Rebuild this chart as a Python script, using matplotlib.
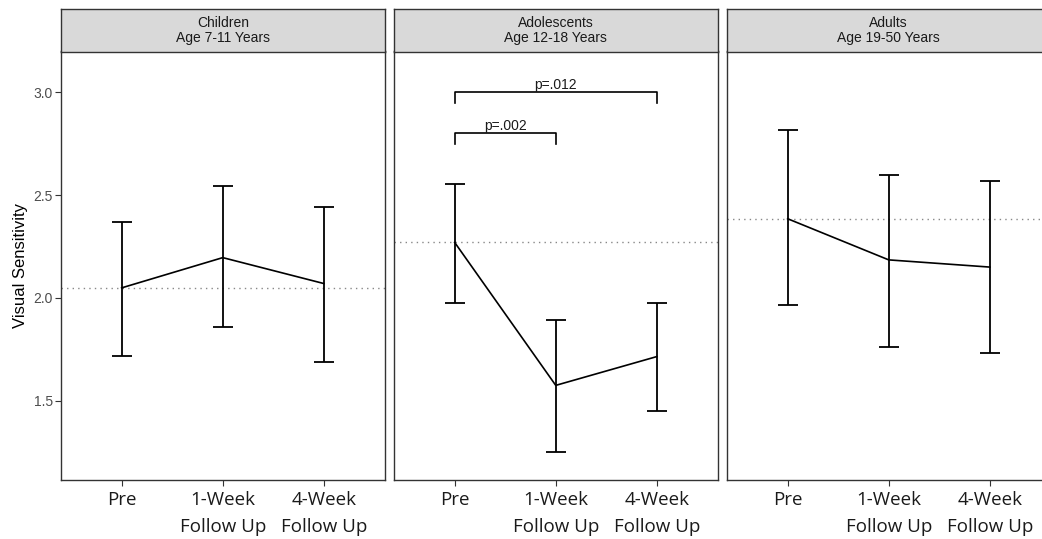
import matplotlib.pyplot as plt

# data
groups = ["Children\nAge 7-11 Years", "Adolescents\nAge 12-18 Years", "Adults\nAge 19-50 Years"]
timepoints = ["Pre", "1-Week\nFollow Up", "4-Week\nFollow Up"]

children_mean = [2.049, 2.196, 2.070]
children_low = [1.717, 1.858, 1.690]
children_high = [2.370, 2.545, 2.440]

adolescents_mean = [2.270, 1.575, 1.715]
adolescents_low = [1.975, 1.250, 1.450]
adolescents_high = [2.555, 1.895, 1.975]

adults_mean = [2.385, 2.185, 2.150]
adults_low = [1.965, 1.760, 1.730]
adults_high = [2.817, 2.600, 2.570]

# significance brackets in the adolescent panel: (from, to, height, label)
brackets = [(0, 1, 2.80, "p=.002"), (0, 2, 3.00, "p=.012")]

means = [children_mean, adolescents_mean, adults_mean]
lows = [children_low, adolescents_low, adults_low]
highs = [children_high, adolescents_high, adults_high]

W, H = 1042, 539
fig = plt.figure(figsize=(W / 100, H / 100), dpi=100)

panel_left = [61, 394, 727]
panel_w = 323.5
panel_top, panel_bot = 51.5, 480
strip_top = 9

x = list(range(len(timepoints)))
grey = "#4D4D4D"
sans = ["Liberation Sans", "DejaVu Sans"]
xfont = ["Open Sans", "DejaVu Sans"]

for i in range(3):
    l = panel_left[i]
    ax = fig.add_axes([l / W, 1 - panel_bot / H, panel_w / W, (panel_bot - panel_top) / H])
    st = fig.add_axes([l / W, 1 - panel_top / H, panel_w / W, (panel_top - strip_top) / H])

    # strip header
    st.set_facecolor("#D9D9D9")
    st.set_xticks([])
    st.set_yticks([])
    for s in st.spines.values():
        s.set_color("#333333")
        s.set_linewidth(1.0)
    st.text(0.5, 0.5, groups[i], ha="center", va="center", fontsize=10,
            color="#1A1A1A", family=sans, linespacing=1.1,
            transform=st.transAxes)

    ax.axhline(means[i][0], color="#888888", linestyle=(0, (1, 3)), linewidth=1.0)
    ax.plot(x, means[i], color="black", linewidth=1.2)
    ax.vlines(x, lows[i], highs[i], color="black", linewidth=1.3)
    ax.hlines(lows[i], [v - 0.1 for v in x], [v + 0.1 for v in x], color="black", linewidth=1.3)
    ax.hlines(highs[i], [v - 0.1 for v in x], [v + 0.1 for v in x], color="black", linewidth=1.3)

    if i == 1:
        for a, b, h, lab in brackets:
            ax.plot([a, a, b, b], [h - 0.053, h, h, h - 0.053], color="black", linewidth=1.2)
            ax.text((a + b) / 2, h + 0.003, lab, ha="center", va="bottom", fontsize=10,
                    family=sans, color="#1A1A1A")

    ax.set_xlim(-0.6, 2.6)
    ax.set_ylim(1.115, 3.198)
    ax.set_xticks(x)
    ax.set_xticklabels(timepoints, fontsize=13.5, family=xfont, linespacing=1.6,
                       color="#1A1A1A")
    ax.tick_params(axis="x", length=4, color="#333333", pad=4)
    ax.set_yticks([1.5, 2.0, 2.5, 3.0])
    if i == 0:
        ax.set_yticklabels(["1.5", "2.0", "2.5", "3.0"], fontsize=10, color=grey,
                           family=sans)
        ax.tick_params(axis="y", length=4, color="#333333", pad=2)
        ax.set_ylabel("Visual Sensitivity", fontsize=12, family=sans, labelpad=4)
    else:
        ax.tick_params(axis="y", length=0, labelleft=False)
    for s in ax.spines.values():
        s.set_color("#333333")
        s.set_linewidth(1.0)

fig.savefig("out.png", dpi=100)
